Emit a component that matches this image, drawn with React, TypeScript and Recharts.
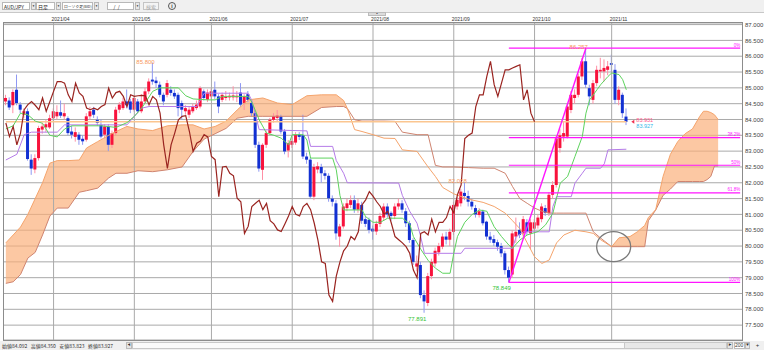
import React from 'react';
import {
  ComposedChart, Bar, Line, Area, XAxis, YAxis, CartesianGrid, ReferenceLine, ReferenceDot,
} from 'recharts';

// daily AUD/JPY candles, 2021/03/15 .. 2021/11/05
const opens = [
  84.57, 84.60, 84.45, 84.94, 84.47, 84.15, 84.26, 82.73, 82.42, 82.78, 83.68, 83.75, 83.75, 84.04, 84.10, 84.23, 84.10, 84.04, 83.62, 83.45,
  83.52, 83.39, 83.36, 84.10, 84.31, 83.99, 83.83, 83.52, 83.78, 83.20, 83.57, 84.31, 84.36, 84.57, 84.57, 84.31, 84.57, 84.26, 84.57, 84.89,
  85.26, 85.23, 85.10, 84.78, 84.78, 84.94, 84.84, 84.78, 84.52, 84.26, 84.15, 84.26, 84.36, 84.41, 84.89, 84.63, 84.73, 84.94, 84.73, 84.62,
  84.68, 84.70, 84.70, 84.70, 84.85, 84.52, 84.80, 84.52, 84.20, 83.20, 82.41, 83.20, 83.57, 83.99, 84.05, 84.10, 83.62, 83.02, 83.20, 83.27,
  83.52, 83.50, 82.83, 82.73, 81.56, 82.42, 82.50, 82.30, 82.22, 81.50, 81.35, 80.30, 80.62, 81.20, 81.30, 81.45, 81.15, 81.30, 80.85, 80.83,
  80.55, 80.46, 80.70, 80.90, 81.25, 81.05, 80.95, 81.25, 81.35, 81.10, 80.72, 80.19, 79.35, 79.40, 78.45, 78.20, 79.05, 79.45, 79.80, 79.98,
  80.30, 80.20, 80.45, 81.25, 81.35, 81.68, 81.58, 81.40, 81.20, 80.98, 81.09, 80.77, 80.30, 80.22, 80.12, 80.00, 79.77, 79.24, 79.10, 80.30,
  80.51, 80.40, 80.75, 80.40, 80.55, 80.65, 80.85, 81.20, 81.04, 81.62, 81.93, 83.10, 83.46, 83.46, 84.30, 84.68, 84.78, 85.36, 85.84, 84.99,
  84.62, 85.15, 85.52, 85.52, 85.57, 85.78, 85.57, 84.62, 84.78, 84.092,
];
const highs = [
  84.78, 84.70, 84.95, 85.42, 84.55, 84.35, 84.35, 82.90, 82.90, 83.80, 83.90, 84.00, 84.15, 84.35, 84.45, 84.60, 84.50, 84.10, 83.80, 83.75,
  83.60, 83.50, 84.20, 84.40, 84.40, 84.10, 84.00, 83.85, 83.85, 83.65, 84.40, 84.55, 84.70, 84.95, 84.65, 84.75, 84.65, 84.80, 85.00, 85.30,
  85.80, 85.35, 85.20, 84.85, 85.25, 85.05, 84.95, 84.85, 84.60, 84.45, 84.40, 84.50, 84.60, 85.05, 84.95, 84.95, 84.98, 85.20, 84.80, 84.85,
  84.90, 84.85, 85.05, 84.90, 85.15, 84.80, 84.90, 84.60, 84.25, 83.30, 83.25, 83.65, 84.05, 84.20, 84.30, 84.15, 83.70, 83.35, 83.45, 83.60,
  83.60, 84.15, 82.95, 82.80, 82.60, 82.65, 82.60, 82.40, 82.30, 81.60, 81.45, 80.70, 81.35, 81.50, 81.60, 81.60, 81.50, 81.40, 80.95, 80.90,
  80.65, 80.80, 81.05, 81.35, 81.35, 81.10, 81.35, 81.50, 81.45, 81.20, 80.80, 80.25, 79.70, 79.50, 78.60, 79.15, 79.60, 79.95, 80.10, 80.40,
  80.45, 80.55, 81.40, 81.55, 81.80, 82.028, 81.75, 81.50, 81.30, 81.20, 81.15, 80.80, 80.45, 80.35, 80.20, 80.10, 79.85, 79.35, 80.50, 80.90,
  80.75, 80.95, 80.85, 80.85, 80.85, 81.00, 81.35, 81.30, 81.70, 82.05, 83.50, 83.70, 83.95, 84.50, 84.90, 84.95, 85.45, 85.95, 86.257, 85.10,
  85.25, 85.70, 85.95, 85.90, 85.85, 86.05, 85.75, 85.05, 84.85, 84.35,
];
const lows = [
  84.45, 84.30, 84.20, 84.45, 84.20, 84.05, 82.70, 82.25, 82.30, 82.70, 83.55, 83.60, 83.70, 83.95, 84.00, 84.05, 84.00, 83.50, 83.40, 83.30,
  83.20, 83.20, 83.30, 84.00, 84.05, 83.80, 83.40, 83.40, 83.00, 83.10, 83.50, 84.20, 84.30, 84.35, 84.20, 84.25, 84.20, 84.20, 84.50, 84.80,
  85.10, 85.00, 84.70, 84.45, 84.70, 84.75, 84.65, 84.10, 84.00, 84.15, 84.05, 84.20, 84.30, 84.35, 84.60, 84.55, 84.65, 84.65, 84.20, 84.55,
  84.60, 84.60, 84.60, 84.55, 84.40, 84.30, 84.55, 84.10, 83.10, 82.35, 82.09, 83.10, 83.50, 83.90, 83.95, 83.55, 82.90, 82.80, 83.10, 83.20,
  83.35, 82.75, 82.60, 81.50, 81.45, 82.30, 82.00, 82.10, 81.40, 81.25, 80.20, 79.98, 80.55, 81.10, 81.20, 81.05, 81.05, 80.70, 80.60, 80.40,
  80.20, 80.35, 80.60, 80.80, 80.90, 80.80, 80.85, 81.15, 81.05, 80.60, 80.10, 79.40, 79.20, 78.35, 77.891, 78.10, 78.95, 79.35, 79.70, 79.90,
  80.05, 80.00, 80.35, 81.15, 81.25, 81.45, 81.25, 81.15, 80.90, 80.90, 80.65, 80.20, 80.10, 80.00, 79.85, 79.65, 79.10, 78.849, 79.00, 80.10,
  80.25, 80.30, 80.35, 79.90, 80.45, 80.55, 80.75, 80.95, 80.95, 81.50, 81.85, 82.95, 83.30, 83.40, 84.20, 84.50, 84.70, 85.25, 85.00, 84.45,
  84.50, 85.05, 85.30, 85.20, 85.40, 85.50, 84.50, 84.45, 84.05, 83.823,
];
const closes = [
  84.68, 84.38, 84.87, 84.52, 84.31, 84.26, 82.75, 82.45, 82.78, 83.73, 83.78, 83.85, 84.04, 84.26, 84.24, 84.12, 84.20, 83.57, 83.52, 83.60,
  83.36, 83.31, 84.10, 84.26, 84.15, 83.89, 83.46, 83.78, 83.20, 83.57, 84.31, 84.47, 84.57, 84.45, 84.31, 84.68, 84.26, 84.57, 84.89, 85.20,
  85.20, 85.15, 84.78, 84.57, 85.15, 84.84, 84.73, 84.36, 84.31, 84.36, 84.31, 84.41, 84.47, 84.99, 84.68, 84.85, 84.89, 84.73, 84.41, 84.78,
  84.73, 84.75, 84.76, 84.75, 84.47, 84.73, 84.62, 84.20, 83.20, 82.45, 83.20, 83.57, 83.99, 84.10, 84.12, 83.62, 82.99, 83.25, 83.32, 83.52,
  83.45, 82.83, 82.73, 81.56, 82.50, 82.52, 82.30, 82.22, 81.51, 81.40, 80.40, 80.62, 81.25, 81.35, 81.45, 81.15, 81.35, 80.80, 80.70, 80.51,
  80.46, 80.70, 80.95, 81.25, 81.00, 80.95, 81.25, 81.35, 81.15, 80.72, 80.19, 79.50, 79.45, 78.45, 78.25, 79.05, 79.50, 79.85, 80.00, 80.30,
  80.20, 80.45, 81.30, 81.46, 81.72, 81.58, 81.40, 81.25, 81.00, 81.10, 80.72, 80.30, 80.20, 80.10, 79.98, 79.77, 79.24, 79.00, 80.40, 80.45,
  80.35, 80.85, 80.45, 80.75, 80.75, 80.90, 81.25, 81.05, 81.62, 81.93, 83.40, 83.50, 83.57, 84.41, 84.78, 84.78, 85.36, 85.84, 85.10, 84.73,
  85.15, 85.57, 85.57, 85.63, 85.68, 85.73, 84.62, 84.94, 84.20, 83.927,
];
const lastAsk = 83.931;

// ichimoku lines: [slot, price]
const tenkanPts: [number, number][] = [
  [0, 83.7], [2, 83.8], [4, 84.2], [6, 84.15], [8, 83.95], [10, 83.88], [12, 83.5], [14, 83.45], [16, 83.7], [18, 83.8],
  [22, 83.8], [26, 83.8], [30, 83.75], [33, 83.9], [35, 84.1], [37, 84.36], [40, 84.89], [42, 85.0], [47, 85.0], [49, 84.75],
  [51, 84.65], [55, 84.62], [57, 84.62], [59, 84.73], [66, 84.73], [67, 84.55], [69, 83.99], [71, 83.57], [73, 83.5], [75, 83.41],
  [77, 83.2], [78, 83.52], [81, 83.52], [82, 83.35], [83, 82.78], [89, 82.78], [90, 82.41], [91, 81.6], [92, 81.14], [97, 81.14],
  [98, 80.93], [100, 80.75], [102, 80.75], [104, 80.88], [108, 80.88], [110, 80.7], [111, 80.3], [113, 79.9], [115, 79.55], [117, 79.3],
  [119, 79.14], [121, 79.14], [122, 79.77], [123, 80.3], [125, 80.75], [127, 81.0], [129, 81.14], [131, 81.1], [133, 80.61], [135, 80.3],
  [137, 80.03], [138, 79.93], [140, 80.19], [142, 80.35], [145, 80.46], [147, 80.67], [149, 81.04], [151, 81.99], [153, 82.2], [155, 82.83],
  [157, 83.46], [158, 84.2], [159, 84.62], [161, 84.94], [162, 85.1], [164, 85.36], [165, 85.47], [167, 85.42], [168, 85.26], [169, 84.94],
];
const kijunPts: [number, number][] = [
  [0, 82.72], [3, 82.9], [5, 83.52], [7, 83.6], [14, 83.6], [16, 83.83], [33, 83.83], [35, 84.1], [37, 84.36], [39, 84.41],
  [52, 84.41], [54, 84.83], [66, 84.83], [67, 84.6], [69, 83.68], [82, 83.64], [83, 83.15], [89, 83.15], [90, 82.7], [92, 82.3],
  [93, 82.0], [107, 81.99], [108, 81.6], [109, 81.35], [110, 81.1], [112, 80.72], [113, 80.3], [114, 79.77], [124, 79.77], [125, 79.93],
  [138, 79.93], [139, 80.3], [141, 80.45], [148, 80.45], [149, 81.25], [150, 81.56], [154, 81.56], [155, 81.99], [157, 82.3], [158, 82.46],
  [162, 82.46], [163, 82.6], [164, 83.04], [169, 83.06],
];
const cloudK = [
  0, 2, 4, 6, 8, 10, 12, 14, 17, 20, 22, 25, 28, 30, 33, 36, 40, 44, 48, 51,
  54, 57, 60, 63, 66, 70, 74, 78, 82, 86, 90, 92, 93, 95, 97, 100, 103, 106, 108, 112,
  115, 117, 119, 122, 126, 130, 133, 136, 138, 140, 142, 144, 146, 148, 150, 152, 155, 158, 160, 162,
  165, 167, 170, 172, 174, 175, 177, 179, 181, 183, 185, 187, 189, 190, 191, 192, 193, 194,
];
const spanA = [
  80.1, 80.35, 80.6, 81.0, 81.5, 82.0, 82.62, 82.7, 82.7, 82.72, 83.1, 83.3, 83.5, 83.62, 83.78, 83.7, 83.65, 83.8, 83.83, 83.83,
  83.7, 83.78, 83.95, 84.3, 84.62, 84.68, 84.52, 84.47, 84.75, 84.78, 84.78, 84.6, 84.35, 83.68, 83.62, 83.52, 83.41, 83.4, 83.04, 82.99,
  82.5, 82.2, 81.85, 81.65, 81.48, 81.38, 81.25, 81.04, 80.8, 80.55, 80.1, 79.66, 79.45, 79.56, 80.1, 80.35, 80.5, 80.45, 80.4, 80.2,
  79.98, 80.26, 80.3, 80.45, 80.65, 80.9, 81.15, 82.2, 82.9, 83.3, 83.55, 83.7, 84.1, 84.26, 84.26, 84.22, 84.15, 84.0,
];
const spanB = [
  78.82, 78.87, 79.1, 79.62, 79.8, 80.35, 80.95, 81.2, 81.2, 81.7, 81.75, 81.83, 82.15, 82.3, 82.3, 82.38, 82.35, 82.41, 82.5, 82.99,
  83.38, 83.55, 83.72, 84.04, 84.1, 84.1, 84.1, 84.1, 84.1, 84.38, 84.41, 84.41, 84.35, 83.99, 83.95, 83.95, 83.95, 83.94, 83.6, 83.52,
  83.52, 82.55, 82.5, 82.5, 82.48, 82.46, 82.46, 82.3, 81.88, 81.5, 81.35, 81.2, 81.1, 81.04, 81.04, 81.04, 81.04, 81.04, 80.45, 80.25,
  79.98, 79.98, 79.98, 79.98, 79.98, 80.8, 81.14, 81.6, 81.8, 82.04, 82.04, 82.04, 82.04, 82.04, 82.1, 82.2, 82.53, 82.53,
];

const priceTicks = [77.5, 78, 78.5, 79, 79.5, 80, 80.5, 81, 81.5, 82, 82.5, 83, 83.5, 84, 84.5, 85, 85.5, 86, 86.5, 87];
const monthStarts = [13, 35, 56, 78, 100, 122, 144, 165];
const monthLabels = ['2021/04', '2021/05', '2021/06', '2021/07', '2021/08', '2021/09', '2021/10', '2021/11'];

const highMarks: [number, number][] = [[40, 85.8], [125, 82.028], [158, 86.257]];
const lowMarks: [number, number][] = [[114, 77.891], [137, 78.849]];
const fibFrom = { i: 137, v: 78.849 };
const fibTo = { i: 158, v: 86.257 };
const fibPcts = [0, 38.2, 50, 61.8, 100];
const twistSlot = 165;
const twistPrice = 79.98;

const SLOTS = 201;
const SHIFT = 25;
const last = closes.length - 1;

const col = {
  up: '#f8123c', down: '#1230d2', upWick: '#ff8fa5', downWick: '#8f98f2',
  tenkan: '#5ed35e', kijun: '#b57ce8', chikou: '#9a2420', spanA: '#f5a46c', spanB: '#cf8470',
  cloud: '#fbae78', fib: '#ff14ff', grid: '#a9a9a9', price: '#fbc690', hiLbl: '#f7985a', loLbl: '#35c335',
};
const numFont = '"Liberation Sans", Arial, sans-serif';
const jpFont = '"Noto Sans CJK JP", "Noto Sans", sans-serif';

const rows: any[] = Array.from({ length: SLOTS }, (_, k) => {
  const r: any = { k };
  if (k <= last) {
    r.o = opens[k]; r.h = highs[k]; r.l = lows[k]; r.c = closes[k];
    r.range = [lows[k], highs[k]];
  }
  if (k + SHIFT <= last) r.chikou = closes[k + SHIFT];
  return r;
});
tenkanPts.forEach(([i, v]) => { rows[i].tenkan = v; });
kijunPts.forEach(([i, v]) => { rows[i].kijun = v; });
let run = -1;
let prevUp = false;
cloudK.forEach((k, n) => {
  rows[k].spanA = spanA[n];
  rows[k].spanB = spanB[n];
  const up = spanA[n] >= spanB[n];
  if (up && !prevUp) run++;
  if (up) rows[k]['cloud' + run] = [spanB[n], spanA[n]];
  prevUp = up;
});
const cloudKeys = Array.from({ length: run + 1 }, (_, n) => 'cloud' + n);

const Candle = (p: any) => {
  const { x, y, width, height, payload } = p;
  if (!payload || payload.o == null) return null;
  const { o, h, l, c } = payload;
  const top = Math.min(y, y + height);
  const span = Math.abs(height);
  const ppu = h - l > 0 ? span / (h - l) : 0;
  const yOf = (v: number) => top + (h - v) * ppu;
  const up = c >= o;
  const bodyTop = yOf(Math.max(o, c));
  const bodyH = Math.max(1, Math.abs(yOf(o) - yOf(c)));
  const cx = x + width / 2;
  return (
    <g>
      <line x1={cx} x2={cx} y1={top} y2={top + span} stroke={up ? col.upWick : col.downWick} strokeWidth={1} />
      <rect x={x} y={bodyTop} width={width} height={bodyH} fill={up ? col.up : col.down} />
    </g>
  );
};

const MonthLabel = ({ viewBox, text }: any) =>
  viewBox ? (
    <text x={viewBox.x - 2} y={viewBox.y - 2} fontSize={5} fill="#333" fontFamily={numFont}>{text}</text>
  ) : null;

const FibLabel = ({ viewBox, text }: any) =>
  viewBox ? (
    <text x={viewBox.x + viewBox.width} y={viewBox.y - 1.5} textAnchor="end" fontSize={4.5} fill={col.fib} fontFamily={numFont}>{text}</text>
  ) : null;

const Select = ({ left, width, text, size = 5 }: { left: number; width: number; text: string; size?: number }) => (
  <>
    <div style={{ position: 'absolute', left, top: 2, width, height: 8, background: '#fff', border: '1px solid #b8b8b8', boxSizing: 'border-box', fontSize: size, lineHeight: '7px', paddingLeft: 1, color: '#222', fontFamily: jpFont, whiteSpace: 'nowrap' }}>{text}</div>
    <div style={{ position: 'absolute', left: left + width + 1, top: 2, width: 5, height: 8, background: '#e8e8e8', border: '1px solid #b8b8b8', boxSizing: 'border-box', fontSize: 3, lineHeight: '7px', textAlign: 'center', color: '#333' }}>▼</div>
  </>
);

export default function App() {
  const fibRange = fibTo.v - fibFrom.v;
  return (
    <div style={{ position: 'absolute', left: 0, top: 0, width: 764, height: 350, background: '#fff', overflow: 'hidden' }}>
      <ComposedChart width={764} height={350} data={rows} margin={{ top: 23, right: 0, bottom: 10, left: 4 }}>
        <CartesianGrid vertical={false} stroke={col.grid} fill="#fff" />
        <XAxis dataKey="k" hide />
        <YAxis
          orientation="right" width={22} domain={[77.03, 87.05]} ticks={priceTicks} allowDataOverflow interval={0}
          tickSize={0} tickMargin={3} axisLine={false} tickFormatter={(v: number) => v.toFixed(3)}
          tick={{ fontSize: 6, fill: '#444', fontFamily: numFont }}
        />
        {monthStarts.map((m, n) => (
          <ReferenceLine key={m} x={m} stroke={col.grid} label={<MonthLabel text={monthLabels[n]} />} />
        ))}
        {cloudKeys.map((key) => (
          <Area key={key} dataKey={key} type="linear" connectNulls stroke="none" fill={col.cloud} fillOpacity={0.68} isAnimationActive={false} />
        ))}
        <Line dataKey="spanB" type="linear" connectNulls stroke={col.spanB} strokeWidth={1} dot={false} activeDot={false} isAnimationActive={false} />
        <Line dataKey="spanA" type="linear" connectNulls stroke={col.spanA} strokeWidth={1} dot={false} activeDot={false} isAnimationActive={false} />
        <ReferenceLine segment={[{ x: 0, y: closes[last] }, { x: last, y: closes[last] }]} stroke={col.price} strokeWidth={1.5} />
        <Line dataKey="kijun" type="linear" connectNulls stroke={col.kijun} strokeWidth={1} dot={false} activeDot={false} isAnimationActive={false} />
        <Line dataKey="tenkan" type="linear" connectNulls stroke={col.tenkan} strokeWidth={1} dot={false} activeDot={false} isAnimationActive={false} />
        <Line dataKey="chikou" type="linear" stroke={col.chikou} strokeWidth={1.2} dot={false} activeDot={false} isAnimationActive={false} />
        <Bar dataKey="range" barSize={3} shape={(p: any) => <Candle {...p} />} isAnimationActive={false} />
        {fibPcts.map((pct) => {
          const lvl = fibTo.v - (pct / 100) * fibRange;
          return (
            <ReferenceLine
              key={pct}
              segment={[{ x: fibFrom.i, y: lvl }, { x: SLOTS - 1, y: lvl }]}
              stroke={col.fib} strokeWidth={1.2}
              label={<FibLabel text={`${pct}%`} />}
            />
          );
        })}
        <ReferenceLine segment={[{ x: fibFrom.i, y: fibFrom.v }, { x: fibTo.i, y: fibTo.v }]} stroke={col.fib} strokeWidth={1.4} />
        {highMarks.map(([i, v]) => (
          <ReferenceDot key={'h' + i} x={i} y={v} r={0} shape={(p: any) => (
            <text x={p.cx + 2} y={p.cy} dy={1} textAnchor="end" fontSize={6} fill={col.hiLbl} fontFamily={numFont}>{v.toFixed(3)}</text>
          )} />
        ))}
        {lowMarks.map(([i, v]) => (
          <ReferenceDot key={'l' + i} x={i} y={v} r={0} shape={(p: any) => (
            <text x={p.cx + 2} y={p.cy + 8} textAnchor="end" fontSize={6} fill={col.loLbl} fontFamily={numFont}>{v.toFixed(3)}</text>
          )} />
        ))}
        <ReferenceDot x={last} y={closes[last]} r={0} shape={(p: any) => (
          <g fontFamily={numFont} fontSize={5.5}>
            <path d={`M${p.cx + 5},${p.cy} l3,-2 v4 z`} fill="#f03050" />
            <text x={p.cx + 10} y={p.cy} fill="#ff5a8c">{lastAsk.toFixed(3)}</text>
            <text x={p.cx + 10} y={p.cy + 6} fill="#33b8e8">{closes[last].toFixed(3)}</text>
          </g>
        )} />
        <ReferenceDot x={twistSlot} y={twistPrice} r={0} shape={(p: any) => (
          <ellipse cx={p.cx + 2} cy={p.cy} rx={17} ry={15} fill="none" stroke="#7a7a7a" strokeWidth={1.3} />
        )} />
      </ComposedChart>

      {/* plot frame */}
      <div style={{ position: 'absolute', left: 3, top: 22, width: 740, height: 319, border: '1px solid #8c8c8c', boxSizing: 'border-box', pointerEvents: 'none' }} />

      {/* toolbar */}
      <div style={{ position: 'absolute', left: 0, top: 0, width: 764, height: 12, background: '#f0f0f0', borderBottom: '1px solid #c8c8c8' }}>
        <Select left={2} width={28} text="AUD/JPY" />
        <Select left={36} width={19} text="日足" />
        <Select left={62} width={31} text="ローソク足(BID)" size={3.8} />
        <Select left={107} width={27} text={'\u00a0\u00a0\u00a0\u00a0/\u00a0\u00a0/'} />
        <div style={{ position: 'absolute', left: 143, top: 2, width: 16, height: 8, background: '#f4f4f4', border: '1px solid #c4c4c4', boxSizing: 'border-box', fontSize: 5, lineHeight: '7px', textAlign: 'center', color: '#aaa', fontFamily: jpFont }}>検索</div>
        <div style={{ position: 'absolute', left: 168, top: 2, width: 8, height: 8, borderRadius: 4, border: '1px solid #555', boxSizing: 'border-box', fontSize: 5, lineHeight: '6px', textAlign: 'center', color: '#333', fontFamily: numFont, fontWeight: 700 }}>i</div>
      </div>
      <div style={{ position: 'absolute', left: 368, top: 12, width: 18, height: 4, background: '#dcdcdc', border: '1px solid #bbb', boxSizing: 'border-box', fontSize: 2.5, lineHeight: '2px', textAlign: 'center', color: '#444', overflow: 'hidden' }}>▲</div>

      {/* status bar */}
      <div style={{ position: 'absolute', left: 0, top: 341, width: 764, height: 9, background: '#f0f0f0', fontFamily: jpFont, fontSize: 5, lineHeight: '9px', color: '#333' }}>
        <span style={{ position: 'absolute', left: 2 }}>
          {`始値${opens[last].toFixed(3)}\u00a0\u00a0\u00a0高値${highs[last].toFixed(3)}\u00a0\u00a0\u00a0安値${lows[last].toFixed(3)}\u00a0\u00a0\u00a0終値${closes[last].toFixed(3)}`}
        </span>
        <div style={{ position: 'absolute', left: 126, top: 1, width: 6, height: 7, background: '#e4e4e4', border: '1px solid #bbb', boxSizing: 'border-box', fontSize: 3, lineHeight: '5px', textAlign: 'center' }}>◀</div>
        <div style={{ position: 'absolute', left: 132, top: 1, width: 595, height: 7, background: '#fafafa', border: '1px solid #c8c8c8', boxSizing: 'border-box' }} />
        <div style={{ position: 'absolute', left: 624, top: 1, width: 103, height: 7, background: '#e8e8e8', border: '1px solid #c8c8c8', boxSizing: 'border-box' }} />
        <div style={{ position: 'absolute', left: 727, top: 1, width: 6, height: 7, background: '#e4e4e4', border: '1px solid #bbb', boxSizing: 'border-box', fontSize: 3, lineHeight: '5px', textAlign: 'center' }}>▶</div>
        <div style={{ position: 'absolute', left: 734, top: 1, width: 11, height: 7, background: '#fff', border: '1px solid #bbb', boxSizing: 'border-box', fontSize: 5, lineHeight: '5px', fontFamily: numFont }}>200</div>
        <div style={{ position: 'absolute', left: 745, top: 1, width: 5, height: 7, background: '#e8e8e8', border: '1px solid #bbb', boxSizing: 'border-box', fontSize: 3, lineHeight: '5px', textAlign: 'center' }}>▼</div>
        <div style={{ position: 'absolute', left: 754, top: 1, width: 7, height: 7, fontSize: 6, lineHeight: '7px', textAlign: 'center', fontFamily: numFont }}>+</div>
      </div>
    </div>
  );
}
